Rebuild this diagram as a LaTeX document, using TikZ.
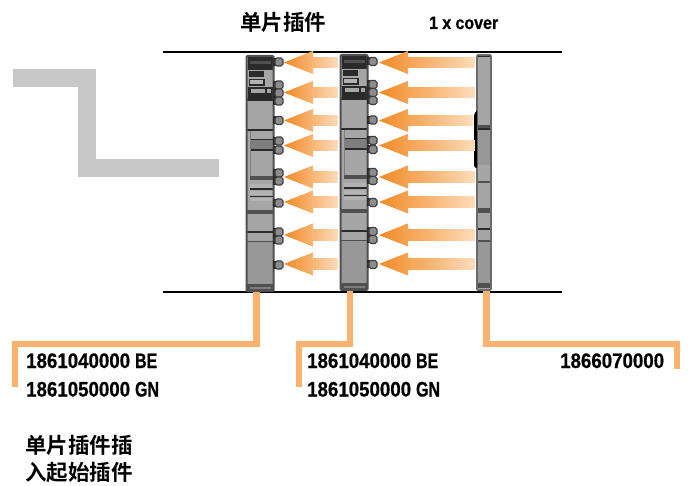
\documentclass[tikz,border=0pt]{standalone}
\usepackage{fontspec}
\setmainfont{Liberation Sans}
\newfontfamily\digitfont{Liberation Sans Bold}[FakeStretch=0.89,FakeBold=0.6,WordSpace=0.95]
\newfontfamily\letterfont{Liberation Sans Bold}[FakeStretch=0.76,FakeBold=0.6]
\newfontfamily\cjk{Noto Sans CJK SC Bold}
\definecolor{leadcol}{HTML}{FBB26E}
\definecolor{arrowhot}{HTML}{F18A26}
\definecolor{arrowpale}{HTML}{FEDDBC}
\definecolor{zgrey}{HTML}{C8C8C8}
\definecolor{bodygrey}{HTML}{A6A6A6}
\definecolor{bodylow}{HTML}{989898}
\definecolor{midgrey}{HTML}{7E7E7E}
\definecolor{edgegrey}{HTML}{505050}
\definecolor{darkgrey}{HTML}{2A2A2A}
\definecolor{knobgrey}{HTML}{8C8C8C}
\tikzset{
  rail/.style={draw=black,line width=1.3pt},
  leader/.style={draw=leadcol,line width=6.5pt,line join=miter},
  lbl/.style={anchor=base west,inner sep=0pt,font=\fontsize{21}{25}\digitfont,text=black},
  cjklbl/.style={anchor=base west,inner sep=0pt,font=\fontsize{21.5}{26}\cjk,text=black},
  knob/.style={fill=#1,draw=black!75,line width=1.1pt,rounded corners=1.8pt},
}
% arrow drawn as side-by-side slices, tip at x=#1, axis y=#2, shaft end x=#3
\newcommand{\flowarrow}[3]{%
  \pgfmathsetmacro{\arrowlen}{#3-#1}%
  \foreach \s in {0,2,...,28}{%
    \pgfmathsetmacro{\pct}{100-100*\s/\arrowlen}%
    \pgfmathsetmacro{\hh}{11.5*\s/29}%
    \pgfmathsetmacro{\se}{min(\s+2.5,29)}%
    \pgfmathsetmacro{\he}{11.5*\se/29}%
    \fill[arrowhot!\pct!arrowpale] (#1+\s,#2-\hh) -- (#1+\se,#2-\he) -- (#1+\se,#2+\he) -- (#1+\s,#2+\hh) -- cycle;
  }%
  \foreach \s in {29,31,...,\arrowlen}{%
    \pgfmathsetmacro{\pct}{100-100*\s/\arrowlen}%
    \pgfmathsetmacro{\se}{min(\s+2.5,\arrowlen)}%
    \fill[arrowhot!\pct!arrowpale] (#1+\s-0.5,#2-5.8) rectangle (#1+\se,#2+5.8);
  }%
}
\newcommand{\modknob}[2]{% left x, centre y
  \fill[darkgrey] (#1-2,#2-4) rectangle (#1+1,#2+4);
  \draw[knob=knobgrey] (#1,#2-4) rectangle (#1+8,#2+4);
}
\newcommand{\plugmodule}[2]{% left x, y shift
\begin{scope}[shift={(#1,#2)}]
  \fill[bodygrey] (0,0) rectangle (27,235);
  \fill[bodylow] (0,186) rectangle (27,230);
  % top block
  \fill[darkgrey] (1,1) rectangle (27,14);
  \fill[edgegrey] (3,5) rectangle (24,8);
  % latch details
  \fill[darkgrey] (2,15) rectangle (17,21);
  \fill[darkgrey] (2,23) rectangle (18,30);
  \fill[bodygrey!85!white] (3,24.5) rectangle (16,28.5);
  \fill[darkgrey] (1,31) rectangle (26,42);
  \fill[bodygrey] (4,33) rectangle (18,37.5);
  \fill[bodygrey] (20,33) rectangle (24,37.5);
  \fill[darkgrey] (0,42) rectangle (27,45);
  % body lines
  \fill[darkgrey] (0,73) rectangle (27,75.5);
  \fill[midgrey] (3,83) rectangle (27,94);
  \fill[darkgrey] (3,83) rectangle (27,84.2);
  \fill[darkgrey] (3,93.5) rectangle (27,95);
  \fill[midgrey] (3,75) rectangle (4,122);
  \fill[edgegrey] (3,120) rectangle (27,124);
  \fill[bodygrey!85!white] (3,128) rectangle (26,132);
  \fill[darkgrey] (3,132.5) rectangle (27,134);
  \fill[bodygrey!85!white] (3,135) rectangle (26,139);
  \fill[darkgrey] (3,140) rectangle (27,141.5);
  \fill[bodygrey!85!white] (3,142) rectangle (26,145);
  \fill[edgegrey] (0,154) rectangle (27,158);
  \fill[darkgrey] (0,175) rectangle (27,177.5);
  \fill[edgegrey] (0,185) rectangle (27,186.5);
  \fill[edgegrey] (0,228.5) rectangle (27,235);
  \fill[midgrey] (3,231) rectangle (24,233);
  \draw[edgegrey,line width=2pt,rounded corners=1pt] (0,0) rectangle (27,235);
\end{scope}
}
\begin{document}
\begin{tikzpicture}[x=1pt,y=-1pt]
\useasboundingbox (0,0) rectangle (688,486);
\fill[white] (0,0) rectangle (688,486);

% grey stepped band
\coordinate (za) at (13,78);
\coordinate (zb) at (86.5,78);
\coordinate (zc) at (86.5,168);
\coordinate (zd) at (219,168);
\draw[zgrey,line width=18pt,line join=miter] (za) -- (zb) -- (zc) -- (zd);

% rails
\coordinate (rtl) at (163,52);
\coordinate (rtr) at (562,52);
\coordinate (rbl) at (163,292);
\coordinate (rbr) at (562,292);
\draw[rail] (rtl) -- (rtr);
\draw[rail] (rbl) -- (rbr);

% leader lines
\coordinate (m1) at (256.5,291);
\coordinate (m1a) at (256.5,344);
\coordinate (m1b) at (15,344);
\coordinate (m1c) at (15,387);
\coordinate (m2) at (350,291);
\coordinate (m2a) at (350,344);
\coordinate (m2b) at (299,344);
\coordinate (m2c) at (299,387);
\coordinate (m3) at (486.5,291);
\coordinate (m3a) at (486.5,344);
\coordinate (m3b) at (677,344);
\coordinate (m3c) at (677,369);
\draw[leader] (m1) -- (m1a) -- (m1b) -- (m1c);
\draw[leader] (m2) -- (m2a) -- (m2b) -- (m2c);
\draw[leader] (m3) -- (m3a) -- (m3b) -- (m3c);

% modules
\plugmodule{246.5}{56}
\plugmodule{340.5}{55}
\foreach \k in {62,85,93,101,120.5,141,150,173,181,203,232,240,265}{
  \modknob{275}{\k}
  \modknob{369}{\k-0.5}
}

% cover
\fill[bodygrey] (477,55) rectangle (491,290);
\fill[bodylow] (477,130) rectangle (491,165);
\fill[bodylow] (477,242) rectangle (491,285);
\fill[darkgrey] (477,55) rectangle (491,57);
\fill[edgegrey] (477,125) rectangle (491,128);
\fill[darkgrey] (477,128) rectangle (491,130);
\fill[edgegrey] (477,181.5) rectangle (491,183);
\fill[edgegrey] (477,208) rectangle (491,213);
\fill[darkgrey] (477,228.5) rectangle (491,230);
\fill[edgegrey] (477,240.5) rectangle (491,242.5);
\fill[edgegrey] (477,283) rectangle (491,288);
\draw[edgegrey!85!white,line width=1.6pt,rounded corners=1pt] (477,55) rectangle (491,290);
\fill[black,rounded corners=1pt] (476,111) -- (477,111) -- (477,168) -- (475,168) -- (474,165) -- (474,115) -- cycle;

% arrows
\flowarrow{284}{62.5}{338}
\flowarrow{284}{92.5}{338}
\flowarrow{284}{120.5}{338}
\flowarrow{284}{145.5}{338}
\flowarrow{284}{177}{338}
\flowarrow{284}{202}{338}
\flowarrow{284}{235}{338}
\flowarrow{284}{264}{338}
\flowarrow{379}{62.5}{475}
\flowarrow{379}{92.5}{475}
\flowarrow{379}{120.5}{472}
\flowarrow{379}{145.5}{475}
\flowarrow{379}{177}{475}
\flowarrow{379}{202}{475}
\flowarrow{379}{235}{475}
\flowarrow{379}{264}{475}

% text
\node[cjklbl] (title) at (240,31) {单片插件};
\node[lbl,font=\fontsize{18}{21}\digitfont] (cover) at (429,29) {1 x cover};
\node[lbl] (a1) at (26,368) {1861040000 {\letterfont BE}};
\node[lbl] (a2) at (26,396.5) {1861050000 {\letterfont GN}};
\node[lbl] (b1) at (307,368) {1861040000 {\letterfont BE}};
\node[lbl] (b2) at (307,396.5) {1861050000 {\letterfont GN}};
\node[lbl] (c1) at (560,368) {1866070000};
\node[cjklbl] (d1) at (25,453) {单片插件插};
\node[cjklbl] (d2) at (25,480) {入起始插件};
\end{tikzpicture}
\end{document}
